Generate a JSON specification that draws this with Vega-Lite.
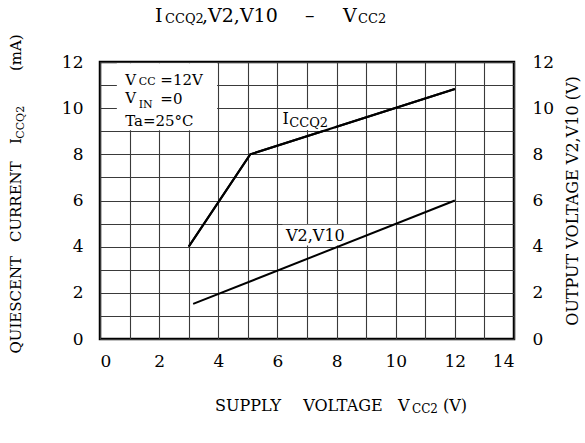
{
  "$schema": "https://vega.github.io/schema/vega-lite/v6.json",
  "width": 414,
  "height": 277,
  "autosize": {"type": "none"},
  "padding": {"left": 100, "top": 62, "right": 71, "bottom": 104},
  "background": "white",
  "config": {
    "font": "DejaVu Serif",
    "view": {"stroke": "black", "strokeWidth": 2.5},
    "axis": {
      "labelFont": "DejaVu Serif",
      "labelFontSize": 17,
      "labelColor": "black",
      "ticks": false,
      "domain": false,
      "gridColor": "#3a3a3a",
      "gridWidth": 1.1,
      "gridOpacity": 1,
      "labelOverlap": false,
      "titleFont": "DejaVu Serif",
      "titleFontWeight": "normal",
      "titleColor": "black"
    },
    "text": {"font": "DejaVu Serif", "fill": "black"}
  },
  "datasets": {
    "lines": [
      {"series": "ICCQ2", "x": 3.0, "y": 4.0},
      {"series": "ICCQ2", "x": 5.08, "y": 8.0},
      {"series": "ICCQ2", "x": 12.0, "y": 10.83},
      {"series": "V2,V10", "x": 3.15, "y": 1.52},
      {"series": "V2,V10", "x": 12.0, "y": 6.0}
    ],
    "boxes": [
      {"name": "conditions", "x": 0.57, "x2": 3.96, "y": 9.04, "y2": 11.95},
      {"name": "ICCQ2 label", "x": 6.08, "x2": 7.94, "y": 9.05, "y2": 9.95},
      {"name": "V2,V10 label", "x": 6.17, "x2": 8.45, "y": 4.05, "y2": 4.95}
    ],
    "texts": [
      {"role": "title", "text": "I", "x": 1.86, "y": 13.75},
      {"role": "title", "text": ",V2,V10", "x": 3.449, "y": 13.75},
      {"role": "title", "text": "–", "x": 6.933, "y": 13.75},
      {"role": "title", "text": "V", "x": 8.218, "y": 13.75},
      {"role": "titlesub", "text": "CCQ2", "x": 2.198, "y": 13.67},
      {"role": "titlesub", "text": "CC2", "x": 8.725, "y": 13.67},
      {"role": "legend", "text": "V", "x": 0.85, "y": 11.02},
      {"role": "legend", "text": "=12V", "x": 2.04, "y": 11.02},
      {"role": "legend", "text": "V", "x": 0.85, "y": 10.24},
      {"role": "legend", "text": "=0", "x": 2.04, "y": 10.19},
      {"role": "legend", "text": "Ta=25°C", "x": 0.85, "y": 9.24},
      {"role": "legendsub", "text": "CC", "x": 1.31, "y": 11.0},
      {"role": "legendsub", "text": "IN", "x": 1.31, "y": 9.99},
      {"role": "label", "text": "I", "x": 6.17, "y": 9.33},
      {"role": "label", "text": "V2,V10", "x": 6.29, "y": 4.24},
      {"role": "labelsub", "text": "CCQ2", "x": 6.4, "y": 9.2},
      {"role": "xtitle", "text": "SUPPLY", "x": 3.89, "y": -3.12},
      {"role": "xtitle", "text": "VOLTAGE", "x": 6.87, "y": -3.12},
      {"role": "xtitle", "text": "V", "x": 10.08, "y": -3.12},
      {"role": "xtitle", "text": "(V)", "x": 11.6, "y": -3.12},
      {"role": "xtitlesub", "text": "CC2", "x": 10.55, "y": -3.21},
      {"role": "ytitle", "text": "QUIESCENT", "x": -2.67, "y": 3.6},
      {"role": "ytitle", "text": "CURRENT", "x": -2.67, "y": 7.7},
      {"role": "ytitle", "text": "I", "x": -2.67, "y": 8.7},
      {"role": "ytitle", "text": "(mA)", "x": -2.67, "y": 13.2},
      {"role": "ytitlesub", "text": "CCQ2", "x": -2.57, "y": 10.1}
    ]
  },
  "encoding": {
    "x": {
      "field": "x",
      "type": "quantitative",
      "scale": {"domain": [0, 14], "nice": false},
      "axis": {
        "values": [0, 1, 2, 3, 4, 5, 6, 7, 8, 9, 10, 11, 12, 13, 14],
        "labelExpr": "datum.value % 2 == 0 ? datum.label : ''",
        "grid": true,
        "labelPadding": 14,
        "title": null
      }
    },
    "y": {
      "field": "y",
      "type": "quantitative",
      "scale": {"domain": [0, 12], "nice": false},
      "axis": null
    }
  },
  "layer": [
    {
      "data": {"name": "lines"},
      "transform": [{"filter": "datum.series == 'ICCQ2'"}],
      "mark": {"type": "line", "color": "black", "strokeWidth": 2},
      "encoding": {
        "y": {
          "field": "y",
          "type": "quantitative",
          "scale": {"domain": [0, 12], "nice": false},
          "axis": {
            "orient": "left",
            "values": [0, 1, 2, 3, 4, 5, 6, 7, 8, 9, 10, 11, 12],
            "labelExpr": "datum.value % 2 == 0 ? datum.label : ''",
            "grid": true,
            "labelPadding": 17,
            "title": null
          }
        }
      }
    },
    {
      "data": {"name": "boxes"},
      "mark": {"type": "rect", "fill": "white", "strokeWidth": 0},
      "encoding": {"x2": {"field": "x2"}, "y2": {"field": "y2"}}
    },
    {
      "data": {"name": "lines"},
      "transform": [{"filter": "datum.series == 'ICCQ2'"}],
      "mark": {"type": "line", "color": "black", "strokeWidth": 2},
      "encoding": {}
    },
    {
      "data": {"name": "lines"},
      "transform": [{"filter": "datum.series == 'V2,V10'"}],
      "mark": {"type": "line", "color": "black", "strokeWidth": 2},
      "encoding": {
        "y": {
          "field": "y",
          "type": "quantitative",
          "scale": {"domain": [0, 12], "nice": false},
          "axis": {
            "orient": "right",
            "values": [0, 2, 4, 6, 8, 10, 12],
            "grid": false,
            "labelPadding": 18,
            "title": "OUTPUT   VOLTAGE   V2,V10   (V)",
            "titleFontSize": 16,
            "titleAngle": 270,
            "titleBaseline": "top",
            "titlePadding": 11
          }
        }
      }
    },
    {
      "data": {"name": "texts"},
      "transform": [{"filter": "datum.role == 'title'"}],
      "mark": {"type": "text", "fontSize": 19, "align": "left", "baseline": "alphabetic"},
      "encoding": {"text": {"field": "text"}}
    },
    {
      "data": {"name": "texts"},
      "transform": [{"filter": "datum.role == 'titlesub'"}],
      "mark": {"type": "text", "fontSize": 13, "align": "left", "baseline": "alphabetic"},
      "encoding": {"text": {"field": "text"}}
    },
    {
      "data": {"name": "texts"},
      "transform": [{"filter": "datum.role == 'legend'"}],
      "mark": {"type": "text", "fontSize": 15, "align": "left", "baseline": "alphabetic"},
      "encoding": {"text": {"field": "text"}}
    },
    {
      "data": {"name": "texts"},
      "transform": [{"filter": "datum.role == 'legendsub'"}],
      "mark": {"type": "text", "fontSize": 11, "align": "left", "baseline": "alphabetic"},
      "encoding": {"text": {"field": "text"}}
    },
    {
      "data": {"name": "texts"},
      "transform": [{"filter": "datum.role == 'label'"}],
      "mark": {"type": "text", "fontSize": 16, "align": "left", "baseline": "alphabetic"},
      "encoding": {"text": {"field": "text"}}
    },
    {
      "data": {"name": "texts"},
      "transform": [{"filter": "datum.role == 'labelsub'"}],
      "mark": {"type": "text", "fontSize": 13, "align": "left", "baseline": "alphabetic"},
      "encoding": {"text": {"field": "text"}}
    },
    {
      "data": {"name": "texts"},
      "transform": [{"filter": "datum.role == 'xtitle'"}],
      "mark": {"type": "text", "fontSize": 16, "align": "left", "baseline": "alphabetic"},
      "encoding": {"text": {"field": "text"}}
    },
    {
      "data": {"name": "texts"},
      "transform": [{"filter": "datum.role == 'xtitlesub'"}],
      "mark": {"type": "text", "fontSize": 12, "align": "left", "baseline": "alphabetic"},
      "encoding": {"text": {"field": "text"}}
    },
    {
      "data": {"name": "texts"},
      "transform": [{"filter": "datum.role == 'ytitle'"}],
      "mark": {"type": "text", "fontSize": 15, "angle": 270, "align": "right", "baseline": "alphabetic"},
      "encoding": {"text": {"field": "text"}}
    },
    {
      "data": {"name": "texts"},
      "transform": [{"filter": "datum.role == 'ytitlesub'"}],
      "mark": {"type": "text", "fontSize": 11, "angle": 270, "align": "right", "baseline": "alphabetic"},
      "encoding": {"text": {"field": "text"}}
    }
  ],
  "resolve": {"scale": {"y": "independent"}, "axis": {"y": "independent"}}
}
